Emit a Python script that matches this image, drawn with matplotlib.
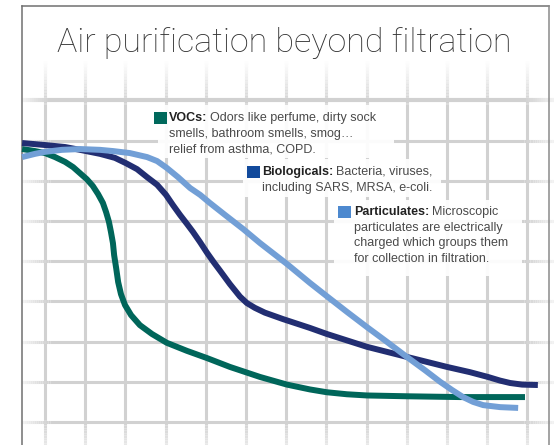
import numpy as np
import matplotlib
matplotlib.use("Agg")
import matplotlib.pyplot as plt
from matplotlib.collections import LineCollection
from matplotlib.patches import Rectangle

# ---- data (grid units: one grid cell = 1) ----
voc_x = [0.43, 0.75, 1.00, 1.25, 1.50, 1.70, 1.87, 2.04, 2.19, 2.32, 2.44, 2.52,
         2.59, 2.64, 2.69, 2.72, 2.77, 2.82, 2.89, 2.99, 3.14, 3.36, 3.66, 4.03,
         4.53, 5.03, 5.60, 6.35, 7.02, 7.59, 8.01, 8.51, 9.01, 10.00, 11.32, 12.94]
voc_y = [6.79, 6.74, 6.69, 6.59, 6.47, 6.34, 6.19, 6.04, 5.87, 5.67, 5.45, 5.22,
         4.98, 4.73, 4.45, 4.15, 3.83, 3.48, 3.18, 2.91, 2.66, 2.41, 2.19, 1.97,
         1.77, 1.59, 1.37, 1.12, 0.93, 0.81, 0.74, 0.69, 0.66, 0.64, 0.62, 0.62]

bio_x = [0.43, 1.00, 1.50, 1.87, 2.37, 2.74, 3.01, 3.29, 3.54, 3.79, 4.01, 4.18,
         4.36, 4.53, 4.68, 4.86, 5.03, 5.20, 5.35, 5.60, 5.85, 6.02, 6.22, 6.47,
         6.92, 7.59, 8.01, 9.01, 10.00, 11.00, 11.57, 12.02, 12.32, 12.57, 12.87,
         13.26]
bio_y = [6.94, 6.89, 6.84, 6.77, 6.67, 6.57, 6.44, 6.29, 6.09, 5.90, 5.65, 5.40,
         5.15, 4.93, 4.73, 4.47, 4.21, 3.97, 3.77, 3.43, 3.12, 2.96, 2.84, 2.72,
         2.56, 2.34, 2.19, 1.87, 1.62, 1.37, 1.24, 1.12, 1.03, 0.97, 0.93, 0.92]

part_x = [0.43, 0.75, 1.00, 1.42, 1.87, 2.37, 2.69, 3.11, 3.54, 3.79, 4.03, 4.31,
          4.61, 4.86, 5.10, 5.48, 5.93, 6.35, 7.02, 7.59, 8.01, 8.51, 9.01, 9.51,
          10.00, 10.45, 10.83, 11.12, 11.40, 11.65, 11.90, 12.32, 12.77]
part_y = [6.59, 6.67, 6.72, 6.77, 6.79, 6.77, 6.74, 6.69, 6.59, 6.49, 6.32, 6.09,
          5.82, 5.65, 5.45, 5.15, 4.80, 4.45, 3.93, 3.46, 3.13, 2.74, 2.36, 1.99,
          1.62, 1.29, 1.00, 0.80, 0.62, 0.50, 0.42, 0.37, 0.35]

title = "Air purification beyond filtration"
labels = [
    ("VOCs:", "Odors like perfume, dirty sock",
     ["smells, bathroom smells, smog\u2026", "relief from asthma, COPD."]),
    ("Biologicals:", "Bacteria, viruses,",
     ["including SARS, MRSA, e-coli."]),
    ("Particulates:", "Microscopic",
     ["particulates are electrically", "charged which groups them",
      "for collection in filtration."]),
]

c_voc = "#00665a"
c_bio = "#222e72"
c_part = "#729fd6"
sq_colors = ["#00695c", "#124a9c", "#4d89cf"]

W, H = 554, 445
fig = plt.figure(figsize=(W / 100, H / 100), dpi=100)
fig.patch.set_facecolor("white")

# decoration axes in pixel units
deco = fig.add_axes([0, 0, 1, 1])
deco.set_xlim(0, W)
deco.set_ylim(H, 0)
deco.axis("off")

# data axes
x0, sx = 4.8, 40.2   # pixel of grid 0, pixels per grid unit
y0 = 422.0
ax = fig.add_axes([0, 0, 1, 1])
ax.set_xlim((0 - x0) / sx, (W - x0) / sx)
ax.set_ylim((y0 - H) / sx, y0 / sx)
ax.axis("off")
ax.patch.set_alpha(0)

grid_gray = 0.82


def fade_line(p0, p1, a0, a1, n=30, lw=2.2):
    xs = np.linspace(p0[0], p1[0], n + 1)
    ys = np.linspace(p0[1], p1[1], n + 1)
    al = np.linspace(a0, a1, n)
    segs = [[(xs[i], ys[i]), (xs[i + 1], ys[i + 1])] for i in range(n)]
    cols = [(1 - a * (1 - grid_gray),) * 3 for a in al]
    deco.add_collection(LineCollection(segs, colors=cols, linewidths=lw,
                                       capstyle="butt", zorder=1))


# vertical grid lines
for k in range(1, 14):
    px = x0 + sx * k
    fade_line((px, 60), (px, 104), 0.0, 1.0)
    fade_line((px, 104), (px, 420), 1.0, 1.0, n=1)
    fade_line((px, 420), (px, H), 1.0, 0.5, n=10)

# horizontal grid lines
for k in range(0, 9):
    py = y0 - sx * k
    lw = 3.0 if k == 8 else 2.2
    fade_line((22, py), (50, py), 0.3, 1.0, n=14, lw=lw)
    fade_line((50, py), (524, py), 1.0, 1.0, n=1, lw=lw)
    fade_line((524, py), (W, py), 1.0, 0.3, n=14, lw=lw)

# white boxes behind the notes
for (bx, by, bw, bh) in [(158, 105, 236, 53), (243, 159, 198, 38), (334, 200, 188, 76)]:
    deco.add_patch(Rectangle((bx, by), bw, bh, facecolor="white", alpha=0.93,
                             edgecolor="none", zorder=2))

# frame
deco.plot([22, 22], [6, H], color="#707070", lw=1.1, zorder=3)
deco.plot([22, 549], [6, 6], color="#707070", lw=1.1, zorder=3)
deco.plot([549, 549], [6, H], color="#8a8a8a", lw=1.1, zorder=3)

# title
deco.text(284, 43, title, ha="center", va="center", fontsize=24.5,
          family="Roboto", fontweight="light", color="#333333", zorder=4)

# curves
ax.plot(voc_x, voc_y, color=c_voc, lw=4.3, solid_capstyle="butt",
        solid_joinstyle="round", zorder=5)
ax.plot(bio_x, bio_y, color=c_bio, lw=4.3, solid_capstyle="butt",
        solid_joinstyle="round", zorder=6)
ax.plot(part_x, part_y, color=c_part, lw=4.3, solid_capstyle="butt",
        solid_joinstyle="round", zorder=7)

# notes
fig.canvas.draw()
renderer = fig.canvas.get_renderer()
note_pos = [(154, 118, 169), (247, 172, 262), (338, 212, 354)]
fs = 9
for (sq_x, y1, tx), (head, rest, more), sqc in zip(note_pos, labels, sq_colors):
    deco.add_patch(Rectangle((sq_x, y1 - 6.5), 13, 12, facecolor=sqc,
                             edgecolor="none", zorder=8))
    t = deco.text(tx, y1, head, ha="left", va="center", fontsize=fs,
                  family="Liberation Sans", fontweight="bold", color="#222222",
                  zorder=8)
    w = t.get_window_extent(renderer).width
    deco.text(tx + w + 3, y1, rest, ha="left", va="center", fontsize=fs,
              family="Liberation Sans", color="#4a4a4a", zorder=8)
    for i, line in enumerate(more):
        deco.text(tx, y1 + 15.7 * (i + 1), line, ha="left", va="center",
                  fontsize=fs, family="Liberation Sans", color="#4a4a4a",
                  zorder=8)

fig.savefig("out.png", dpi=100)
